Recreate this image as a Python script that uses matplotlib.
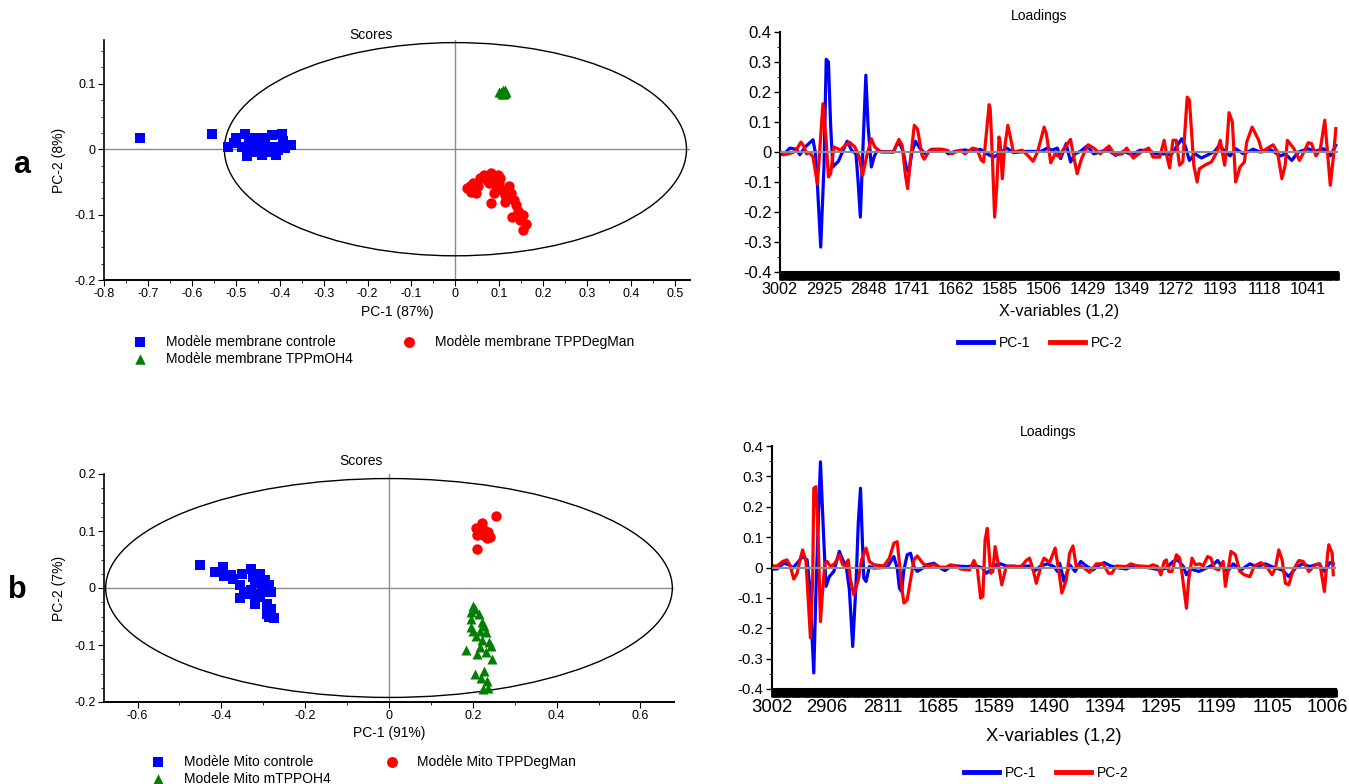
import numpy as np
import matplotlib.pyplot as plt
from matplotlib.patches import Ellipse
from matplotlib.ticker import MultipleLocator, FuncFormatter

plt.rcParams['font.family'] = ['Liberation Sans', 'DejaVu Sans']

# ---- scores (a) membrane model : (PC-1, PC-2)
a_ctrl = [(-0.717, 0.017), (-0.555, 0.024), (-0.518, 0.003), (-0.5, 0.017), (-0.48, 0.024),
          (-0.485, 0.004), (-0.474, -0.01), (-0.459, 0.017), (-0.449, 0.002), (-0.439, 0.017),
          (-0.441, -0.009), (-0.418, 0.022), (-0.413, 0.004), (-0.408, -0.009), (-0.395, 0.024),
          (-0.393, 0.012), (-0.388, 0.002), (-0.374, 0.007), (-0.423, -0.004), (-0.464, -0.004),
          (-0.505, 0.009), (-0.434, 0.007), (-0.403, -0.001), (-0.47, 0.01), (-0.43, 0.0)]
a_tpp = [(0.103, 0.088), (0.108, 0.091), (0.113, 0.086), (0.11, 0.084), (0.106, 0.085),
         (0.115, 0.088), (0.1, 0.087), (0.112, 0.09)]
a_deg = [(0.026, -0.06), (0.036, -0.065), (0.041, -0.052), (0.051, -0.057), (0.056, -0.044),
         (0.064, -0.039), (0.071, -0.047), (0.077, -0.052), (0.082, -0.037), (0.087, -0.042),
         (0.092, -0.057), (0.097, -0.039), (0.099, -0.052), (0.102, -0.044), (0.087, -0.067),
         (0.082, -0.083), (0.107, -0.062), (0.112, -0.08), (0.122, -0.057), (0.126, -0.067),
         (0.133, -0.078), (0.138, -0.085), (0.128, -0.103), (0.143, -0.095), (0.153, -0.1),
         (0.146, -0.108), (0.16, -0.114), (0.153, -0.124), (0.112, -0.07), (0.046, -0.067),
         (0.033, -0.057)]
a_labels = ['Modèle membrane controle', 'Modèle membrane TPPmOH4', 'Modèle membrane TPPDegMan']
a_var = ('PC-1 (87%)', 'PC-2 (8%)')

# ---- scores (b) mito model
b_ctrl = [(-0.45, 0.04), (-0.415, 0.028), (-0.397, 0.036), (-0.394, 0.021), (-0.378, 0.022),
          (-0.372, 0.016), (-0.351, 0.025), (-0.356, 0.005), (-0.329, 0.034), (-0.324, 0.019),
          (-0.319, 0.008), (-0.308, 0.025), (-0.303, 0.002), (-0.297, 0.014), (-0.287, 0.005),
          (-0.281, -0.007), (-0.345, -0.007), (-0.356, -0.017), (-0.335, -0.01), (-0.319, -0.028),
          (-0.313, -0.016), (-0.292, -0.028), (-0.281, -0.036), (-0.292, -0.045), (-0.287, -0.051),
          (-0.274, -0.053), (-0.297, -0.007), (-0.329, -0.004), (-0.308, -0.01)]
b_tpp = [(0.2, -0.031), (0.205, -0.036), (0.195, -0.042), (0.214, -0.045), (0.195, -0.054),
         (0.2, -0.075), (0.216, -0.075), (0.227, -0.066), (0.232, -0.078), (0.208, -0.084),
         (0.222, -0.092), (0.238, -0.095), (0.243, -0.101), (0.184, -0.109), (0.216, -0.104),
         (0.211, -0.116), (0.232, -0.113), (0.246, -0.125), (0.205, -0.151), (0.227, -0.145),
         (0.219, -0.158), (0.235, -0.163), (0.224, -0.178), (0.237, -0.175), (0.195, -0.069),
         (0.222, -0.06)]
b_deg = [(0.256, 0.126), (0.207, 0.106), (0.221, 0.114), (0.227, 0.102), (0.237, 0.099),
         (0.211, 0.093), (0.235, 0.088), (0.24, 0.09), (0.214, 0.099), (0.21, 0.068),
         (0.225, 0.093)]
b_labels = ['Modèle Mito controle', 'Modele Mito mTPPOH4', 'Modèle Mito TPPDegMan']
b_var = ('PC-1 (91%)', 'PC-2 (7%)')

# ---- loadings (a) : (variable index, loading)
a_pc1 = [(0, -0.006), (3, -0.009), (9, 0.013), (15, 0.009), (18, -0.009), (23, 0.017), (30, 0.041),
         (32, 0.0), (34, -0.11), (37, -0.317), (40, -0.044), (42, 0.309), (44, 0.3), (46, 0.089),
         (48, -0.05), (53, -0.031), (56, -0.006), (61, 0.036), (65, 0.006), (69, -0.006), (71, -0.1),
         (73, -0.217), (75, -0.022), (78, 0.256), (80, 0.089), (83, -0.05), (86, -0.011), (88, 0.002),
         (103, 0.0), (106, 0.024), (109, 0.028), (112, 0.0), (115, -0.056), (117, -0.067), (120, 0.0),
         (123, 0.036), (127, 0.013), (132, -0.006), (138, 0.009), (148, 0.009), (153, -0.006),
         (159, 0.002), (168, 0.007), (173, 0.002), (182, 0.009), (188, -0.006), (194, -0.017),
         (199, -0.006), (206, 0.013), (212, -0.002), (224, 0.002), (237, 0.002), (243, 0.013),
         (247, 0.006), (252, 0.013), (255, -0.022), (260, 0.028), (264, -0.033), (268, -0.006),
         (273, 0.002), (279, 0.02), (285, -0.006), (291, 0.0), (297, 0.009), (305, -0.011),
         (312, 0.002), (320, -0.009), (327, 0.006), (336, 0.004), (341, -0.006), (350, -0.006),
         (355, -0.011), (359, 0.011), (365, 0.044), (368, 0.022), (372, -0.028), (377, -0.006),
         (383, -0.02), (389, -0.009), (395, 0.002), (399, 0.022), (405, 0.0), (409, -0.013),
         (414, 0.011), (421, -0.006), (430, 0.009), (436, 0.0), (445, 0.009), (455, -0.013),
         (459, -0.006), (465, -0.028), (471, 0.0), (480, 0.011), (486, 0.002), (494, 0.011),
         (500, -0.013), (505, 0.022)]
a_pc2 = [(0, 0.002), (3, -0.009), (8, -0.006), (14, 0.002), (19, 0.033), (22, 0.017), (24, -0.006),
         (27, -0.002), (30, -0.017), (34, -0.106), (36, 0.0), (39, 0.161), (42, 0.033), (44, -0.083),
         (46, -0.072), (49, 0.017), (55, 0.006), (59, 0.022), (63, 0.033), (68, 0.017), (72, -0.017),
         (75, -0.078), (79, -0.011), (83, 0.044), (86, 0.017), (92, 0.0), (103, 0.0), (108, 0.042),
         (111, 0.022), (114, -0.078), (116, -0.122), (118, -0.044), (122, 0.089), (125, 0.076),
         (129, -0.011), (131, -0.024), (136, 0.006), (144, 0.009), (152, 0.006), (156, -0.006),
         (161, 0.002), (164, 0.006), (168, -0.006), (175, 0.013), (179, 0.009), (183, -0.028),
         (185, -0.033), (187, 0.044), (190, 0.158), (191, 0.144), (193, -0.022), (195, -0.217),
         (197, -0.111), (199, 0.05), (200, 0.033), (202, -0.089), (204, 0.011), (207, 0.089),
         (209, 0.056), (212, 0.0), (220, 0.006), (225, -0.011), (230, -0.031), (234, 0.0),
         (240, 0.083), (242, 0.061), (246, -0.036), (250, -0.006), (254, -0.017), (257, 0.006),
         (264, 0.042), (266, 0.0), (270, -0.072), (274, -0.022), (280, 0.024), (285, 0.013),
         (291, -0.006), (299, 0.02), (304, -0.009), (311, -0.006), (315, 0.013), (321, -0.02),
         (329, 0.002), (335, 0.013), (339, -0.017), (345, -0.017), (349, 0.039), (352, -0.022),
         (354, -0.053), (357, 0.039), (360, 0.039), (363, -0.044), (366, -0.033), (370, 0.183),
         (372, 0.172), (376, -0.044), (379, -0.1), (381, -0.056), (386, -0.044), (392, -0.033),
         (397, 0.0), (400, 0.039), (404, -0.044), (406, 0.022), (408, 0.131), (411, 0.1),
         (414, -0.1), (418, -0.05), (422, -0.033), (424, 0.033), (429, 0.083), (435, 0.039),
         (438, 0.0), (443, 0.013), (448, 0.024), (452, 0.0), (456, -0.089), (459, -0.044),
         (461, 0.039), (467, 0.011), (472, -0.028), (476, 0.0), (480, 0.031), (483, 0.028),
         (487, -0.013), (491, 0.011), (495, 0.106), (498, -0.022), (500, -0.111), (503, -0.011),
         (505, 0.078)]
a_ticks = ['3002', '2925', '2848', '1741', '1662', '1585', '1506', '1429', '1349', '1272',
           '1193', '1118', '1041']

# ---- loadings (b)
b_pc1 = [(0, -0.005), (5, -0.005), (11, 0.014), (16, 0.009), (19, -0.002), (23, 0.014), (28, 0.036),
         (32, 0.025), (35, -0.084), (36, -0.194), (38, -0.347), (40, -0.073), (42, 0.146), (44, 0.348),
         (47, 0.091), (49, -0.062), (52, -0.03), (56, -0.013), (61, 0.053), (64, 0.025), (67, 0.009),
         (70, -0.073), (73, -0.26), (76, -0.052), (78, 0.146), (80, 0.261), (82, 0.058), (83, -0.035),
         (85, -0.046), (88, 0.003), (92, -0.002), (104, 0.001), (110, 0.036), (113, -0.002),
         (115, -0.068), (117, -0.079), (119, -0.008), (122, 0.042), (125, 0.047), (128, 0.003),
         (131, -0.013), (136, -0.002), (140, 0.009), (146, 0.014), (152, -0.002), (156, -0.01),
         (161, 0.003), (166, 0.005), (175, 0.003), (184, 0.005), (190, -0.002), (193, -0.019),
         (197, -0.008), (202, 0.009), (206, 0.012), (211, 0.005), (221, 0.003), (232, 0.005),
         (237, -0.01), (242, 0.005), (248, 0.012), (254, 0.003), (257, -0.013), (259, 0.014),
         (263, -0.046), (268, 0.009), (273, -0.013), (278, 0.02), (283, 0.005), (289, -0.008),
         (295, 0.009), (299, 0.016), (305, 0.005), (313, -0.002), (319, -0.005), (325, 0.005),
         (332, 0.003), (341, -0.002), (349, -0.008), (355, -0.002), (361, 0.02), (365, 0.025),
         (370, 0.005), (373, -0.024), (377, -0.005), (384, -0.013), (391, -0.002), (397, 0.009),
         (401, 0.023), (406, -0.002), (410, -0.013), (415, 0.012), (422, -0.008), (430, 0.012),
         (436, 0.003), (444, 0.012), (451, 0.001), (459, -0.008), (465, -0.03), (471, -0.002),
         (477, 0.012), (484, 0.003), (492, 0.012), (497, -0.013), (502, 0.016), (505, 0.012)]
b_pc2 = [(0, 0.005), (5, 0.005), (10, 0.02), (14, 0.025), (17, 0.003), (20, -0.038), (23, -0.019),
         (26, 0.031), (28, 0.058), (31, 0.02), (33, -0.106), (35, -0.232), (37, -0.041), (38, 0.261),
         (40, 0.266), (42, 0.091), (44, -0.178), (46, -0.073), (48, 0.014), (50, 0.02), (53, 0.003),
         (57, 0.014), (61, 0.042), (64, 0.009), (67, 0.003), (69, 0.025), (71, -0.041), (74, -0.09),
         (78, -0.041), (81, 0.025), (85, 0.064), (88, 0.02), (92, 0.009), (101, 0.005), (106, 0.031),
         (110, 0.08), (113, 0.085), (115, 0.014), (117, -0.062), (119, -0.117), (122, -0.106),
         (125, -0.041), (128, 0.025), (131, 0.038), (136, 0.014), (140, 0.005), (146, 0.009),
         (152, 0.001), (157, 0.001), (161, 0.009), (166, 0.005), (170, -0.005), (178, -0.008),
         (182, 0.023), (185, -0.002), (188, -0.101), (190, -0.095), (192, 0.091), (194, 0.129),
         (197, -0.019), (199, -0.013), (201, 0.069), (204, 0.009), (207, -0.057), (211, 0.003),
         (218, 0.005), (224, 0.001), (229, 0.023), (232, 0.031), (236, -0.019), (238, -0.052),
         (243, 0.014), (245, 0.031), (250, 0.016), (255, 0.064), (259, -0.03), (261, -0.084),
         (265, -0.041), (268, 0.047), (271, 0.071), (274, 0.003), (278, 0.005), (281, -0.002),
         (286, -0.016), (292, 0.012), (298, 0.012), (303, -0.019), (306, -0.019), (310, 0.005),
         (319, 0.003), (323, 0.012), (329, 0.005), (332, 0.005), (339, 0.003), (343, 0.009),
         (347, 0.003), (350, -0.024), (353, 0.02), (355, 0.025), (357, -0.013), (360, -0.013),
         (364, 0.042), (367, 0.031), (369, -0.019), (372, -0.106), (373, -0.134), (375, -0.041),
         (378, 0.031), (381, 0.009), (385, 0.012), (388, 0.005), (392, 0.036), (395, 0.031),
         (398, -0.002), (402, -0.008), (406, 0.02), (408, -0.062), (410, -0.019), (413, 0.053),
         (417, 0.042), (421, -0.013), (425, -0.024), (430, -0.03), (434, 0.005), (440, 0.016),
         (445, 0.003), (450, -0.024), (453, -0.002), (456, 0.058), (459, 0.025), (462, -0.052),
         (465, -0.057), (469, -0.008), (474, 0.023), (478, 0.02), (483, -0.013), (489, 0.009),
         (493, 0.012), (497, -0.079), (500, 0.047), (501, 0.075), (504, 0.047), (505, -0.024)]
b_ticks = ['3002', '2906', '2811', '1685', '1589', '1490', '1394', '1295', '1199', '1105', '1006']


def fmt(v, pos):
    v = round(v, 3)
    return '0' if v == 0 else '%g' % v


W, H = 1349, 784
fig = plt.figure(figsize=(W / 100, H / 100), dpi=100)


def box(left, top, right, bottom):
    # pixel box -> figure fraction
    return [left / W, 1 - bottom / H, (right - left) / W, (bottom - top) / H]


def scores(rect, groups, labels, var, xlim, ylim, xmaj, ell, leg_xy, colsp):
    ax = fig.add_axes(rect)
    ax.axhline(0, color='#8c8c8c', lw=1, zorder=1)
    ax.axvline(0, color='#8c8c8c', lw=1, zorder=1)
    ax.add_patch(Ellipse((0, 0), ell[0], ell[1], fill=False, ec='black', lw=1, zorder=2))
    styles = [('s', '#0000ff', 48), ('^', '#008000', 52), ('o', '#ff0000', 56)]
    hs = []
    for pts, (m, c, s), lab in zip(groups, styles, labels):
        x, y = zip(*pts)
        hs.append(ax.scatter(x, y, marker=m, color=c, s=s, lw=0, zorder=3, label=lab))
    ax.set_xlim(*xlim)
    ax.set_ylim(*ylim)
    for sp in ['top', 'right']:
        ax.spines[sp].set_visible(False)
    ax.spines['left'].set_linewidth(1.2)
    ax.spines['bottom'].set_linewidth(1.4)
    ax.xaxis.set_major_locator(MultipleLocator(xmaj))
    ax.xaxis.set_minor_locator(MultipleLocator(xmaj / 2))
    ax.yaxis.set_major_locator(MultipleLocator(0.1))
    ax.yaxis.set_minor_locator(MultipleLocator(0.025))
    ax.xaxis.set_major_formatter(FuncFormatter(fmt))
    ax.yaxis.set_major_formatter(FuncFormatter(fmt))
    ax.tick_params(which='major', length=4, labelsize=9, pad=2)
    ax.tick_params(which='minor', length=2.5)
    ax.set_xlabel(var[0], fontsize=10, labelpad=3)
    ax.set_ylabel(var[1], fontsize=10, labelpad=6)
    ax.legend(handles=hs, loc='upper left', bbox_to_anchor=(leg_xy[0] / W, 1 - leg_xy[1] / H),
              bbox_transform=fig.transFigure, ncol=2, frameon=False, fontsize=10,
              handlelength=1.0, handletextpad=1.35, columnspacing=colsp, borderpad=0,
              borderaxespad=0, labelspacing=0.2, markerscale=1.05)
    return ax


def loadings(rect, pc1, pc2, ticks, step, tsize, ysize, leg_xy, lpad):
    ax = fig.add_axes(rect)
    for pts, c, lab in [(pc1, '#0000ff', 'PC-1'), (pc2, '#ff0000', 'PC-2')]:
        x, y = zip(*pts)
        ax.plot(x, y, color=c, lw=2.3, label=lab, zorder=2)
    ax.axhline(0, color='#8c8c8c', lw=1.5, zorder=3)
    ax.set_xlim(0, 507)
    ax.set_ylim(-0.4, 0.4)
    for sp in ['top', 'right']:
        ax.spines[sp].set_visible(False)
    ax.spines['left'].set_linewidth(1.5)
    ax.spines['bottom'].set_linewidth(1.5)
    # one tick per variable -> solid black band under the axis
    ax.set_xticks(np.arange(len(ticks)) * step, ticks)
    ax.xaxis.set_minor_locator(MultipleLocator(1))
    ax.tick_params(axis='x', which='both', length=5.5, width=2.0, labelsize=tsize, pad=2)
    ax.yaxis.set_major_locator(MultipleLocator(0.1))
    ax.yaxis.set_minor_locator(MultipleLocator(0.05))
    ax.yaxis.set_major_formatter(FuncFormatter(fmt))
    ax.tick_params(axis='y', which='major', length=4, width=1, labelsize=ysize, pad=2)
    ax.tick_params(axis='y', which='minor', length=2.5)
    ax.set_xlabel('X-variables (1,2)', fontsize=tsize, labelpad=lpad)
    leg = ax.legend(loc='upper left', bbox_to_anchor=(leg_xy[0] / W, 1 - leg_xy[1] / H),
                    bbox_transform=fig.transFigure, ncol=2, frameon=False, fontsize=10,
                    handlelength=2.5, handletextpad=0.45, columnspacing=1.4, borderpad=0,
                    borderaxespad=0)
    for h in leg.legend_handles:
        h.set_linewidth(3.5)
    return ax


scores(box(104, 40, 690, 280), [a_ctrl, a_tpp, a_deg], a_labels, a_var,
       (-0.8, 0.534), (-0.2, 0.167), 0.1, (1.052, 0.326), (133, 335), 3.6)
scores(box(104, 474, 674, 702), [b_ctrl, b_tpp, b_deg], b_labels, b_var,
       (-0.68, 0.68), (-0.2, 0.2), 0.2, (1.352, 0.384), (151, 755), 3.9)
loadings(box(780, 32, 1338, 272), a_pc1, a_pc2, a_ticks, 40, 11.7, 12, (958, 336), 5)
loadings(box(771.5, 446, 1335.5, 689), b_pc1, b_pc2, b_ticks, 50, 13.3, 10.8, (964, 766), 8)

fig.text(371 / W, 1 - 35 / H, 'Scores', fontsize=10, ha='center', va='center')
fig.text(361 / W, 1 - 461 / H, 'Scores', fontsize=10, ha='center', va='center')
fig.text(1039 / W, 1 - 16 / H, 'Loadings', fontsize=10, ha='center', va='center')
fig.text(1048 / W, 1 - 432 / H, 'Loadings', fontsize=10, ha='center', va='center')
fig.text(22 / W, 1 - 165 / H, 'a', fontsize=22, weight='bold', ha='center', va='center')
fig.text(17 / W, 1 - 590 / H, 'b', fontsize=22, weight='bold', ha='center', va='center')

fig.savefig('out.png', dpi=100)
